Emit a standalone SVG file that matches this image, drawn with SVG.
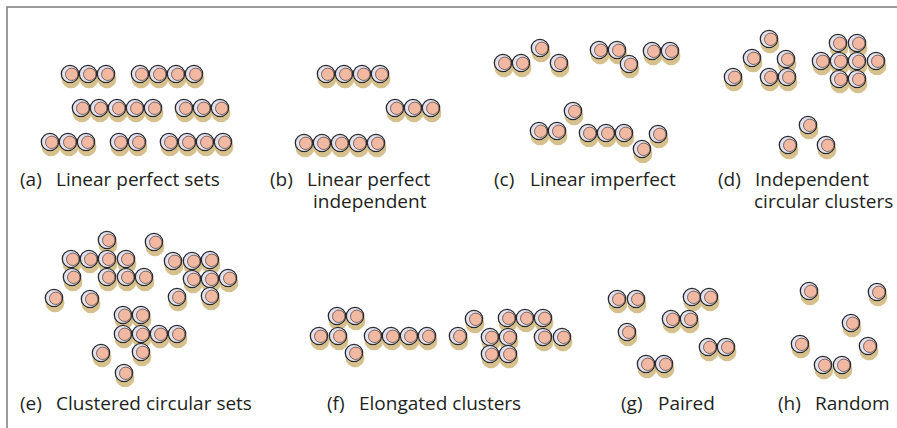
<svg xmlns="http://www.w3.org/2000/svg" xmlns:xlink="http://www.w3.org/1999/xlink" width="897" height="428" viewBox="0 0 897 428">
<style>
.o{fill:#e2e1f0;stroke:#2b2b2b;stroke-width:1.3}
.i{fill:#f1b9a1;stroke:#4a3a36;stroke-width:0.7}
.t{font-family:"Open Sans","Liberation Sans",sans-serif;font-size:19px;fill:#231f20}
</style>
<defs>
<g id="b"><circle class="o" r="8.7"/><circle class="i" cx="1.7" cy="0.3" r="6.2"/></g>
<filter id="sh" filterUnits="userSpaceOnUse" x="0" y="0" width="897" height="428">
<feFlood flood-color="#d6c08d"/>
<feComposite in2="SourceAlpha" operator="in"/>
<feOffset dx="0.5" dy="4.5" result="s"/>
<feMerge><feMergeNode in="s"/><feMergeNode in="SourceGraphic"/></feMerge>
</filter>
</defs>
<rect x="7" y="7" width="900" height="430" fill="none" stroke="#7a7a7a" stroke-width="1.5"/>
<g id="panel-a" filter="url(#sh)">
<use href="#b" x="70" y="74"/><use href="#b" x="88" y="74"/><use href="#b" x="106" y="74"/>
<use href="#b" x="140" y="74"/><use href="#b" x="158" y="74"/><use href="#b" x="176" y="74"/><use href="#b" x="194" y="74"/>
<use href="#b" x="81" y="108"/><use href="#b" x="99" y="108"/><use href="#b" x="117" y="108"/><use href="#b" x="135" y="108"/><use href="#b" x="153" y="108"/>
<use href="#b" x="184" y="108"/><use href="#b" x="202" y="108"/><use href="#b" x="220" y="108"/>
<use href="#b" x="50" y="142"/><use href="#b" x="68" y="142"/><use href="#b" x="86" y="142"/>
<use href="#b" x="119" y="142"/><use href="#b" x="137" y="142"/>
<use href="#b" x="169" y="142"/><use href="#b" x="187" y="142"/><use href="#b" x="205" y="142"/><use href="#b" x="223" y="142"/>
</g>
<g id="panel-b" filter="url(#sh)">
<use href="#b" x="326" y="74"/><use href="#b" x="344" y="74"/><use href="#b" x="362" y="74"/><use href="#b" x="380" y="74"/>
<use href="#b" x="395" y="108"/><use href="#b" x="413" y="108"/><use href="#b" x="431" y="108"/>
<use href="#b" x="304" y="143"/><use href="#b" x="322" y="143"/><use href="#b" x="340" y="143"/><use href="#b" x="358" y="143"/><use href="#b" x="376" y="143"/>
</g>
<g id="panel-c" filter="url(#sh)">
<use href="#b" x="503" y="63"/><use href="#b" x="521" y="63"/><use href="#b" x="540" y="48"/><use href="#b" x="559" y="63"/>
<use href="#b" x="599" y="50"/><use href="#b" x="617" y="50"/><use href="#b" x="629" y="64"/>
<use href="#b" x="652" y="51"/><use href="#b" x="670" y="51"/>
<use href="#b" x="573" y="111"/>
<use href="#b" x="539" y="131"/><use href="#b" x="557" y="131"/>
<use href="#b" x="588" y="133"/><use href="#b" x="606" y="133"/><use href="#b" x="624" y="133"/>
<use href="#b" x="642" y="149"/><use href="#b" x="658" y="134"/>
</g>
<g id="panel-d" filter="url(#sh)">
<use href="#b" x="769" y="39"/><use href="#b" x="752" y="58"/><use href="#b" x="786" y="59"/>
<use href="#b" x="733" y="77"/><use href="#b" x="769" y="77"/><use href="#b" x="787" y="77"/>
<use href="#b" x="838" y="43"/><use href="#b" x="857" y="43"/>
<use href="#b" x="821" y="61"/><use href="#b" x="839" y="61"/><use href="#b" x="857" y="61"/><use href="#b" x="876" y="61"/>
<use href="#b" x="839" y="79"/><use href="#b" x="857" y="79"/>
<use href="#b" x="808" y="125"/><use href="#b" x="788" y="145"/><use href="#b" x="826" y="145"/>
</g>
<g id="panel-e" filter="url(#sh)">
<use href="#b" x="107" y="240"/><use href="#b" x="154" y="242"/>
<use href="#b" x="71" y="259"/><use href="#b" x="89" y="259"/><use href="#b" x="107" y="259"/><use href="#b" x="126" y="259"/>
<use href="#b" x="173" y="261"/><use href="#b" x="192" y="261"/><use href="#b" x="210" y="260"/>
<use href="#b" x="72" y="277"/><use href="#b" x="107" y="277"/><use href="#b" x="126" y="277"/><use href="#b" x="144" y="277"/>
<use href="#b" x="192" y="279"/><use href="#b" x="210" y="279"/><use href="#b" x="228" y="278"/>
<use href="#b" x="54" y="298"/><use href="#b" x="90" y="299"/><use href="#b" x="177" y="297"/><use href="#b" x="210" y="296"/>
<use href="#b" x="123" y="315"/><use href="#b" x="141" y="315"/>
<use href="#b" x="123" y="334"/><use href="#b" x="141" y="334"/><use href="#b" x="159" y="334"/><use href="#b" x="177" y="334"/>
<use href="#b" x="101" y="353"/><use href="#b" x="141" y="352"/>
<use href="#b" x="124" y="373"/>
</g>
<g id="panel-f" filter="url(#sh)">
<use href="#b" x="337" y="316"/><use href="#b" x="355" y="316"/>
<use href="#b" x="319" y="336"/><use href="#b" x="338" y="336"/>
<use href="#b" x="354" y="353"/>
<use href="#b" x="373" y="336"/><use href="#b" x="391" y="336"/><use href="#b" x="409" y="336"/><use href="#b" x="427" y="336"/>
<use href="#b" x="458" y="336"/><use href="#b" x="474" y="319"/>
<use href="#b" x="507" y="318"/><use href="#b" x="525" y="318"/><use href="#b" x="543" y="318"/>
<use href="#b" x="490" y="337"/><use href="#b" x="508" y="337"/>
<use href="#b" x="490" y="354"/><use href="#b" x="508" y="354"/>
<use href="#b" x="543" y="337"/><use href="#b" x="562" y="337"/>
</g>
<g id="panel-g" filter="url(#sh)">
<use href="#b" x="617" y="299"/><use href="#b" x="636" y="299"/>
<use href="#b" x="692" y="297"/><use href="#b" x="709" y="297"/>
<use href="#b" x="671" y="319"/><use href="#b" x="689" y="319"/>
<use href="#b" x="627" y="332"/>
<use href="#b" x="708" y="347"/><use href="#b" x="726" y="347"/>
<use href="#b" x="646" y="364"/><use href="#b" x="664" y="364"/>
</g>
<g id="panel-h" filter="url(#sh)">
<use href="#b" x="809" y="291"/><use href="#b" x="877" y="292"/>
<use href="#b" x="851" y="323"/>
<use href="#b" x="800" y="344"/><use href="#b" x="868" y="346"/>
<use href="#b" x="823" y="365"/><use href="#b" x="842" y="365"/>
</g>
<g id="labels">
<text class="t" y="186"><tspan x="20">(a)</tspan><tspan x="56">Linear perfect sets</tspan></text>
<text class="t"><tspan x="270" y="186">(b)</tspan><tspan x="307" y="186">Linear perfect</tspan><tspan x="313" y="208">independent</tspan></text>
<text class="t" y="186"><tspan x="494">(c)</tspan><tspan x="530">Linear imperfect</tspan></text>
<text class="t"><tspan x="718" y="186">(d)</tspan><tspan x="755" y="186">Independent</tspan><tspan x="754" y="208">circular clusters</tspan></text>
<text class="t" y="410"><tspan x="20">(e)</tspan><tspan x="56">Clustered circular sets</tspan></text>
<text class="t" y="410"><tspan x="327">(f)</tspan><tspan x="359">Elongated clusters</tspan></text>
<text class="t" y="410"><tspan x="621">(g)</tspan><tspan x="658">Paired</tspan></text>
<text class="t" y="410"><tspan x="778">(h)</tspan><tspan x="815">Random</tspan></text>
</g>
</svg>
